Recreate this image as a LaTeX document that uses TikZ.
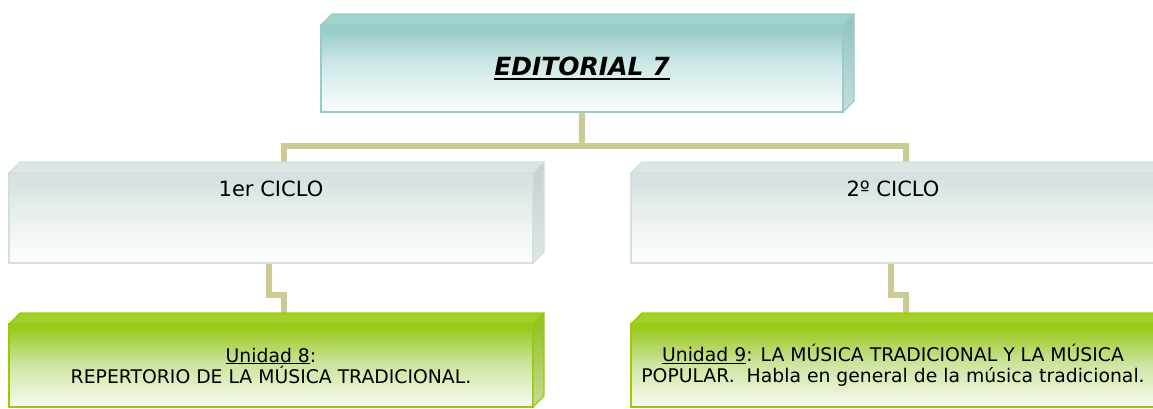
\documentclass[tikz,border=0pt]{standalone}
\usepackage{fontspec}
\setmainfont{DejaVu Sans}
\usetikzlibrary{calc,backgrounds}
\definecolor{tealtop}{HTML}{99CCC8}
\definecolor{tealmid}{HTML}{CFE9E7}
\definecolor{tealbot}{HTML}{FAFDFD}
\definecolor{tealedge}{HTML}{93CCC8}
\definecolor{tealface}{HTML}{A0D2CE}
\definecolor{tealside}{HTML}{93C2BF}
\definecolor{tealside2}{HTML}{C5DFDD}
\definecolor{graytop}{HTML}{D7E1E1}
\definecolor{graymid}{HTML}{E9EFEF}
\definecolor{graybot}{HTML}{FDFEFE}
\definecolor{grayedge}{HTML}{D3DEDE}
\definecolor{grayface}{HTML}{DCE5E5}
\definecolor{grayside}{HTML}{C6D0D0}
\definecolor{grayside2}{HTML}{DFE6E6}
\definecolor{greentop}{HTML}{9ACA22}
\definecolor{greenmid}{HTML}{CBE39A}
\definecolor{greenbot}{HTML}{F8FBF3}
\definecolor{greenedge}{HTML}{99CC00}
\definecolor{greenface}{HTML}{A2D02A}
\definecolor{greenside}{HTML}{8DBF1E}
\definecolor{greenside2}{HTML}{C9DB95}
\definecolor{linkcol}{HTML}{CDCA96}
\pgfdeclareverticalshading{tealfront}{100bp}{color(0bp)=(tealbot); color(25bp)=(tealbot); color(52bp)=(tealmid); color(72bp)=(tealtop); color(100bp)=(tealtop)}
\pgfdeclareverticalshading{grayfront}{100bp}{color(0bp)=(graybot); color(25bp)=(graybot); color(52bp)=(graymid); color(72bp)=(graytop); color(100bp)=(graytop)}
\pgfdeclareverticalshading{greenfront}{100bp}{color(0bp)=(greenbot); color(25bp)=(greenbot); color(52bp)=(greenmid); color(72bp)=(greentop); color(100bp)=(greentop)}
\pgfdeclareverticalshading{tealsideshade}{100bp}{color(0bp)=(tealside2); color(25bp)=(tealside2); color(75bp)=(tealside); color(100bp)=(tealside)}
\pgfdeclareverticalshading{graysideshade}{100bp}{color(0bp)=(grayside2); color(25bp)=(grayside2); color(75bp)=(grayside); color(100bp)=(grayside)}
\pgfdeclareverticalshading{greensideshade}{100bp}{color(0bp)=(greenside2); color(25bp)=(greenside2); color(75bp)=(greenside); color(100bp)=(greenside)}
\newcommand\cubefaces[4]{%
  \path[fill=#2,draw=#4,line width=1.2pt,line join=round] (#1.north west) -- ++(11,-11) -- ($(#1.north east)+(11,-11)$) -- (#1.north east) -- cycle;
  \path[shading=#3,draw=#4,line width=1.2pt,line join=round] (#1.north east) -- ++(11,-11) -- ($(#1.south east)+(11,-11)$) -- (#1.south east) -- cycle;
}
\newcommand\thickul[1]{\vtop{\hbox{#1}\kern2pt\hrule height 2.4pt}}
\tikzset{
  front/.style={rectangle,minimum width=524pt,outer sep=0pt,inner sep=0pt,line width=1.2pt,align=center},
  topbox/.style={front,minimum width=522pt,minimum height=87pt,shading=tealfront,draw=tealedge,font=\fontsize{25}{30}\selectfont\bfseries\itshape},
  cyclebox/.style={front,minimum height=90pt,shading=grayfront,draw=grayedge},
  unitbox/.style={front,minimum height=83pt,shading=greenfront,draw=greenedge,font=\fontsize{18.8}{21}\selectfont},
  cyclelabel/.style={inner sep=0pt,anchor=north,font=\fontsize{21}{25}\selectfont},
  link/.style={draw=linkcol,line width=6pt}
}
\begin{document}
\begin{tikzpicture}[x=1pt,y=-1pt]
\useasboundingbox (0,0) rectangle (1153,408);
\clip (0,0) rectangle (1153,408);
\node[topbox] (top) at (582,68.5) {\thickul{EDITORIAL 7}};
\cubefaces{top}{tealface}{tealsideshade}{tealedge}
\node[cyclebox] (c1) at (271,218) {};
\cubefaces{c1}{grayface}{graysideshade}{grayedge}
\node[cyclelabel] (t1) at ($(c1.north)+(0,8)$) {1er CICLO};
\node[cyclebox] (c2) at (893,218) {};
\cubefaces{c2}{grayface}{graysideshade}{grayedge}
\node[cyclelabel] (t2) at ($(c2.north)+(0,8)$) {2º CICLO};
\node[unitbox] (g1) at (271,365.5) {\underline{Unidad 8}:\\REPERTORIO DE LA MÚSICA TRADICIONAL.};
\cubefaces{g1}{greenface}{greensideshade}{greenedge}
\node[unitbox] (g2) at (893,365.5) {\underline{Unidad 9}: LA MÚSICA TRADICIONAL Y LA MÚSICA\\POPULAR.\ \ Habla en general de la música tradicional.};
\cubefaces{g2}{greenface}{greensideshade}{greenedge}
\begin{scope}[on background layer]
\draw[link] (top.south) -- ++(0,33.5) coordinate (hub);
\draw[link] ($(c1.north)+(13,-11)$) |- (hub) -| ($(c2.north)+(13,-11)$);
\draw[link] ($(c1.south)+(-2,0)$) -- ++(0,32) -| ($(g1.north)+(13,-11)$);
\draw[link] ($(c2.south)+(-2,0)$) -- ++(0,32) -| ($(g2.north)+(13,-11)$);
\end{scope}
\end{tikzpicture}
\end{document}
